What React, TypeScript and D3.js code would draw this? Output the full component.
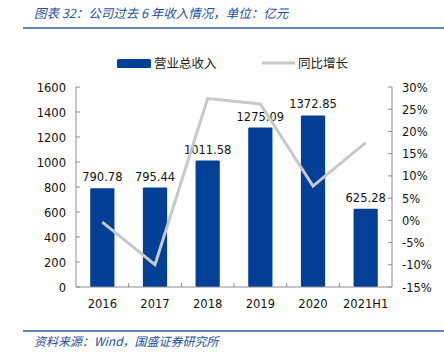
import React from 'react';
import * as d3 from 'd3';

const categories = ['2016', '2017', '2018', '2019', '2020', '2021H1'];
const revenue = [790.78, 795.44, 1011.58, 1275.09, 1372.85, 625.28];
const growth = [-0.4, -10.0, 27.4, 26.2, 7.7, 17.5];
const leftTicks = [0, 200, 400, 600, 800, 1000, 1200, 1400, 1600];
const rightTicks = [-15, -10, -5, 0, 5, 10, 15, 20, 25, 30];

const App = () => {
  const width = 444;
  const height = 354;
  const left = 76;
  const right = 392;
  const top = 87;
  const bottom = 287;

  const blue = '#023f97';
  const lineGray = '#c8c8c8';
  const axisGray = '#8c8c8c';
  const titleBlue = '#1d4f9c';
  const font = '"DejaVu Sans", sans-serif';
  const cjk = '"Noto Sans CJK SC", sans-serif';

  const x = d3.scaleBand<string>().domain(categories).range([left, right]).paddingInner(0.54).paddingOuter(0.27);
  const xc = d3.scaleBand<string>().domain(categories).range([left, right]);
  const yL = d3.scaleLinear().domain([0, 1600]).range([bottom, top]);
  const yR = d3.scaleLinear().domain([-15, 30]).range([bottom, top]);

  const line = d3
    .line<number>()
    .x((_, i) => (xc(categories[i]) as number) + xc.bandwidth() / 2)
    .y((d) => yR(d));

  return (
    <svg width={width} height={height} style={{ position: 'absolute', left: 0, top: 0 }}>
      <rect width={width} height={height} fill="#fff" />
      {/* title */}
      <text x={34} y={18} fontFamily={cjk} fontSize={12.5} fontStyle="italic" fill={titleBlue}>
        图表 32：公司过去 6 年收入情况，单位：亿元
      </text>
      <line x1={23} x2={444} y1={28} y2={28} stroke="#2c5aa0" strokeWidth={1.5} />

      {/* legend */}
      <rect x={117} y={59} width={34} height={9} rx={1.5} fill={blue} />
      <text x={154} y={67.5} fontFamily={cjk} fontSize={12.5} fill="#222">营业总收入</text>
      <line x1={262} x2={295} y1={63} y2={63} stroke={lineGray} strokeWidth={3} />
      <text x={298} y={67.5} fontFamily={cjk} fontSize={12.5} fill="#222">同比增长</text>

      {/* bars */}
      {revenue.map((v, i) => (
        <g key={categories[i]}>
          <rect
            x={x(categories[i])}
            y={yL(v)}
            width={x.bandwidth()}
            height={bottom - yL(v)}
            rx={1}
            fill={blue}
          />
          <text
            x={(x(categories[i]) as number) + x.bandwidth() / 2}
            y={yL(v) - 7}
            textAnchor="middle"
            fontFamily={font}
            fontSize={11.5}
            fill="#111"
          >
            {v.toFixed(2)}
          </text>
        </g>
      ))}

      {/* growth line */}
      <path d={line(growth) || ''} fill="none" stroke={lineGray} strokeWidth={3} strokeLinejoin="miter" />

      {/* axes */}
      <line x1={left} x2={left} y1={top} y2={bottom} stroke={axisGray} />
      <line x1={right} x2={right} y1={top} y2={bottom} stroke={axisGray} />
      <line x1={left} x2={right} y1={bottom} y2={bottom} stroke={axisGray} />
      {leftTicks.map((t) => (
        <g key={'l' + t}>
          <line x1={left} x2={left + 4} y1={yL(t)} y2={yL(t)} stroke={axisGray} />
          <text x={left - 10} y={yL(t) + 4.5} textAnchor="end" fontFamily={font} fontSize={11.5} fill="#111">
            {t}
          </text>
        </g>
      ))}
      {rightTicks.map((t) => (
        <g key={'r' + t}>
          <line x1={right - 4} x2={right} y1={yR(t)} y2={yR(t)} stroke={axisGray} />
          <text x={right + 10} y={yR(t) + 4.5} fontFamily={font} fontSize={11.5} fill="#111">
            {t}%
          </text>
        </g>
      ))}
      {categories.map((c, i) => (
        <g key={'x' + c}>
          {i > 0 && (
            <line
              x1={xc(c)}
              x2={xc(c)}
              y1={bottom}
              y2={bottom - 4}
              stroke={axisGray}
            />
          )}
          <text
            x={(xc(c) as number) + xc.bandwidth() / 2}
            y={bottom + 21}
            textAnchor="middle"
            fontFamily={font}
            fontSize={11.5}
            fill="#111"
          >
            {c}
          </text>
        </g>
      ))}

      {/* source */}
      <line x1={23} x2={444} y1={331} y2={331} stroke="#2c5aa0" strokeWidth={1.5} />
      <text x={34} y={346} fontFamily={cjk} fontSize={12} fontStyle="italic" fill={titleBlue}>
        资料来源：Wind，国盛证券研究所
      </text>
    </svg>
  );
};

export default App;
